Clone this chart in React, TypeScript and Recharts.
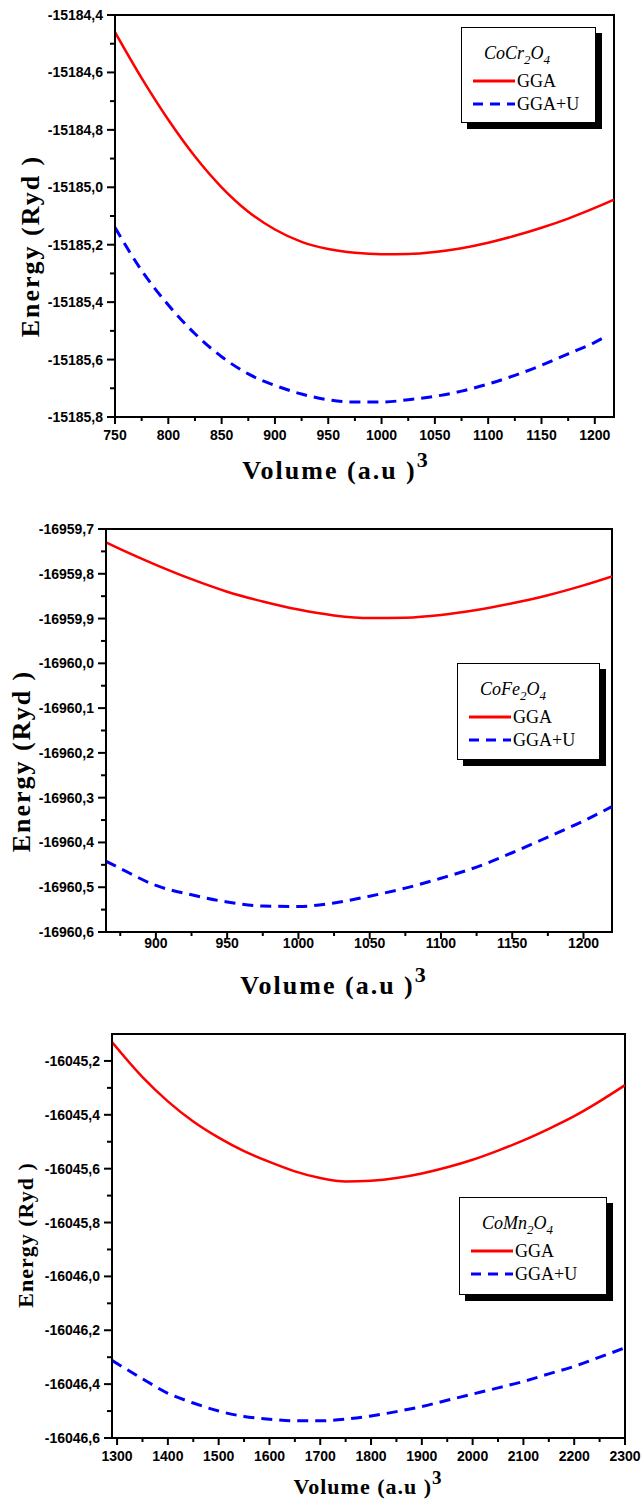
import React from "react";
import { LineChart, Line, XAxis, YAxis, ReferenceArea } from "recharts";

// CoCr2O4
const crVolGGA = [750, 775, 800, 825, 850, 875, 900, 925, 950, 975, 1000, 1025, 1050, 1075, 1100, 1125, 1150, 1175, 1200, 1218];
const crGGA = [-15184.46, -15184.62, -15184.765, -15184.893, -15185.0, -15185.085, -15185.147, -15185.19, -15185.215, -15185.228, -15185.233, -15185.232, -15185.225, -15185.212, -15185.193, -15185.169, -15185.141, -15185.109, -15185.072, -15185.043];
const crVolU = [750, 775, 800, 825, 850, 875, 900, 925, 950, 975, 1000, 1025, 1050, 1075, 1100, 1125, 1150, 1175, 1200, 1210];
const crU = [-15185.14, -15185.29, -15185.41, -15185.51, -15185.59, -15185.65, -15185.69, -15185.72, -15185.74, -15185.748, -15185.748, -15185.74, -15185.728, -15185.71, -15185.685, -15185.655, -15185.62, -15185.58, -15185.54, -15185.52];
const crXMajor = [750, 800, 850, 900, 950, 1000, 1050, 1100, 1150, 1200];
const crXMinor = [775, 825, 875, 925, 975, 1025, 1075, 1125, 1175];
const crYMajor = [-15185.8, -15185.6, -15185.4, -15185.2, -15185.0, -15184.8, -15184.6, -15184.4];
const crYMinor = [-15185.7, -15185.5, -15185.3, -15185.1, -15184.9, -15184.7, -15184.5];

// CoFe2O4
const feVol = [865, 875, 900, 925, 950, 975, 1000, 1025, 1050, 1075, 1100, 1125, 1150, 1175, 1200, 1220];
const feGGA = [-16959.73, -16959.745, -16959.78, -16959.812, -16959.84, -16959.862, -16959.88, -16959.893, -16959.899, -16959.898, -16959.892, -16959.881, -16959.866, -16959.848, -16959.826, -16959.806];
const feU = [-16960.442, -16960.458, -16960.496, -16960.517, -16960.533, -16960.542, -16960.543, -16960.535, -16960.52, -16960.502, -16960.48, -16960.455, -16960.423, -16960.388, -16960.352, -16960.32];
const feXMajor = [900, 950, 1000, 1050, 1100, 1150, 1200];
const feXMinor = [875, 925, 975, 1025, 1075, 1125, 1175];
const feYMajor = [-16960.6, -16960.5, -16960.4, -16960.3, -16960.2, -16960.1, -16960.0, -16959.9, -16959.8, -16959.7];
const feYMinor = [-16960.55, -16960.45, -16960.35, -16960.25, -16960.15, -16960.05, -16959.95, -16959.85, -16959.75];

// CoMn2O4
const mnVol = [1290, 1350, 1400, 1450, 1500, 1550, 1600, 1650, 1700, 1750, 1800, 1850, 1900, 1950, 2000, 2050, 2100, 2150, 2200, 2250, 2300];
const mnGGA = [-16045.13, -16045.26, -16045.35, -16045.425, -16045.485, -16045.535, -16045.575, -16045.61, -16045.635, -16045.648, -16045.645, -16045.635, -16045.618, -16045.595, -16045.567, -16045.533, -16045.495, -16045.452, -16045.405, -16045.35, -16045.29];
const mnU = [-16046.312, -16046.38, -16046.434, -16046.47, -16046.5, -16046.52, -16046.53, -16046.536, -16046.536, -16046.53, -16046.518, -16046.502, -16046.483, -16046.46, -16046.437, -16046.414, -16046.39, -16046.362, -16046.334, -16046.3, -16046.265];
const mnXMajor = [1300, 1400, 1500, 1600, 1700, 1800, 1900, 2000, 2100, 2200, 2300];
const mnXMinor = [1350, 1450, 1550, 1650, 1750, 1850, 1950, 2050, 2150, 2250];
const mnYMajor = [-16046.6, -16046.4, -16046.2, -16046.0, -16045.8, -16045.6, -16045.4, -16045.2];
const mnYMinor = [-16046.5, -16046.3, -16046.1, -16045.9, -16045.7, -16045.5, -16045.3];

const toRows = (xs: number[], ys: number[]) => xs.map((v, i) => ({ v, e: ys[i] }));

const SANS = '"Liberation Sans", Arial, sans-serif';
const SERIF = '"Liberation Serif", "Times New Roman", serif';
const RED = "#ff0000";
const BLUE = "#0000ff";

const isMajor = (majors: number[], v: number) => majors.some((m) => Math.abs(m - v) < 1e-6);

function YTick(props: any) {
  const { x, y, payload, majors } = props;
  const major = isMajor(majors, payload.value);
  return (
    <g>
      <line x1={x - (major ? 8 : 5)} x2={x} y1={y} y2={y} stroke="#000" strokeWidth={2} />
      {major && (
        <text x={x - 12} y={y + 5} textAnchor="end" fontFamily={SANS} fontWeight="bold" fontSize={14} fill="#000">
          {payload.value.toFixed(1).replace(".", ",")}
        </text>
      )}
    </g>
  );
}

function XTick(props: any) {
  const { x, y, payload, majors, labelDy } = props;
  const major = isMajor(majors, payload.value);
  return (
    <g>
      <line x1={x} x2={x} y1={y} y2={y + (major ? 7 : 4)} stroke="#000" strokeWidth={2} />
      {major && (
        <text x={x} y={y + labelDy} textAnchor="middle" fontFamily={SANS} fontWeight="bold" fontSize={14} fill="#000">
          {payload.value}
        </text>
      )}
    </g>
  );
}

// axis titles in the original are large bold Times
function XTitle(props: any) {
  const { viewBox, dy, cx, size, spacing } = props;
  return (
    <text x={cx} y={viewBox.y + dy} textAnchor="middle" fontFamily={SERIF} fontWeight="bold" fontSize={size} letterSpacing={spacing} fill="#000">
      Volume (a.u )<tspan dy={-Math.round(size * 0.45)} fontSize={Math.round(size * 0.85)}>3</tspan>
    </text>
  );
}

function YTitle(props: any) {
  const { cx, cy, size, spacing } = props;
  return (
    <text x={cx} y={cy} textAnchor="middle" transform={`rotate(-90, ${cx}, ${cy})`} fontFamily={SERIF} fontWeight="bold" fontSize={size} letterSpacing={spacing} fill="#000">
      Energy (Ryd )
    </text>
  );
}

interface PanelProps {
  top: number;
  height: number;
  margin: { top: number; right: number; bottom: number; left: number };
  xDomain: [number, number];
  yDomain: [number, number];
  xMajor: number[];
  xMinor: number[];
  yMajor: number[];
  yMinor: number[];
  gga: { v: number; e: number }[];
  ggaU: { v: number; e: number }[];
  xAxisHeight: number;
  tickDy: number;
  titleDy: number;
  titleCx: number;
  yTitleCx: number;
  yTitleCy: number;
  titleSize: number;
  titleSpacing: number;
}

function Panel(p: PanelProps) {
  const xTicks = [...p.xMajor, ...p.xMinor].sort((a, b) => a - b);
  const yTicks = [...p.yMajor, ...p.yMinor].sort((a, b) => a - b);
  return (
    <div style={{ position: "absolute", left: 0, top: p.top }}>
      <LineChart width={643} height={p.height} margin={p.margin}>
        <XAxis
          type="number"
          dataKey="v"
          domain={p.xDomain}
          ticks={xTicks}
          interval={0}
          allowDataOverflow
          tickLine={false}
          tickSize={0}
          tickMargin={0}
          height={p.xAxisHeight}
          axisLine={{ stroke: "#000", strokeWidth: 2 }}
          tick={<XTick majors={p.xMajor} labelDy={p.tickDy} />}
          label={<XTitle dy={p.titleDy} cx={p.titleCx} size={p.titleSize} spacing={p.titleSpacing} />}
        />
        <YAxis
          type="number"
          dataKey="e"
          domain={p.yDomain}
          ticks={yTicks}
          interval={0}
          allowDataOverflow
          tickLine={false}
          tickSize={0}
          tickMargin={0}
          width={100}
          axisLine={{ stroke: "#000", strokeWidth: 2 }}
          tick={<YTick majors={p.yMajor} />}
          label={<YTitle cx={p.yTitleCx} cy={p.yTitleCy} size={p.titleSize} spacing={p.titleSpacing} />}
        />
        <ReferenceArea
          x1={p.xDomain[0]}
          x2={p.xDomain[1]}
          y1={p.yDomain[0]}
          y2={p.yDomain[1]}
          fill="none"
          stroke="#000"
          strokeWidth={2}
          ifOverflow="visible"
        />
        <Line data={p.gga} dataKey="e" type="monotone" stroke={RED} strokeWidth={2.5} dot={false} isAnimationActive={false} />
        <Line data={p.ggaU} dataKey="e" type="monotone" stroke={BLUE} strokeWidth={3} strokeDasharray="11 7" dot={false} isAnimationActive={false} />
      </LineChart>
    </div>
  );
}

function LegendBox(props: { left: number; top: number; width: number; height: number; formula: React.ReactNode }) {
  const { left, top, width, height, formula } = props;
  const row = (y: number, color: string, dash: string | undefined, text: string) => (
    <div style={{ position: "absolute", left: 11, top: y - 12, height: 24, display: "flex", alignItems: "center" }}>
      <svg width={42} height={6} style={{ display: "block" }}>
        <line x1={0} x2={42} y1={3} y2={3} stroke={color} strokeWidth={3} strokeDasharray={dash} />
      </svg>
      <span style={{ marginLeft: 2, fontSize: 18, lineHeight: "24px" }}>{text}</span>
    </div>
  );
  return (
    <div
      style={{
        position: "absolute",
        left,
        top,
        width,
        height,
        boxSizing: "border-box",
        border: "1px solid #000",
        background: "#fff",
        boxShadow: "6px 6px 0 #000",
        fontFamily: SERIF,
        color: "#000",
      }}
    >
      <div style={{ position: "absolute", left: 22, top: 13, fontSize: 18, fontStyle: "italic", lineHeight: "24px", whiteSpace: "nowrap" }}>
        {formula}
      </div>
      {row(53, RED, undefined, "GGA")}
      {row(76, BLUE, "10 7", "GGA+U")}
    </div>
  );
}

const subStyle: React.CSSProperties = { fontSize: 13, verticalAlign: "-5px" };

export default function App() {
  return (
    <div style={{ position: "absolute", left: 0, top: 0, width: 643, height: 1508, background: "#fff", overflow: "hidden" }}>
      <Panel
        top={0}
        height={505}
        margin={{ top: 15, right: 29, bottom: 0, left: 15 }}
        xDomain={[750, 1218]}
        yDomain={[-15185.8, -15184.4]}
        xMajor={crXMajor}
        xMinor={crXMinor}
        yMajor={crYMajor}
        yMinor={crYMinor}
        gga={toRows(crVolGGA, crGGA)}
        ggaU={toRows(crVolU, crU)}
        xAxisHeight={88}
        tickDy={23}
        titleDy={62}
        titleCx={336}
        yTitleCx={39}
        yTitleCy={246}
        titleSize={26}
        titleSpacing={2}
      />
      <Panel
        top={505}
        height={505}
        margin={{ top: 24, right: 31, bottom: 0, left: 6 }}
        xDomain={[865, 1220]}
        yDomain={[-16960.6, -16959.7]}
        xMajor={feXMajor}
        xMinor={feXMinor}
        yMajor={feYMajor}
        yMinor={feYMinor}
        gga={toRows(feVol, feGGA)}
        ggaU={toRows(feVol, feU)}
        xAxisHeight={78}
        tickDy={16}
        titleDy={62}
        titleCx={334}
        yTitleCx={30}
        yTitleCy={256}
        titleSize={26}
        titleSpacing={2}
      />
      <Panel
        top={1010}
        height={498}
        margin={{ top: 24, right: 18, bottom: 0, left: 12 }}
        xDomain={[1290, 2300]}
        yDomain={[-16046.6, -16045.1]}
        xMajor={mnXMajor}
        xMinor={mnXMinor}
        yMajor={mnYMajor}
        yMinor={mnYMinor}
        gga={toRows(mnVol, mnGGA)}
        ggaU={toRows(mnVol, mnU)}
        xAxisHeight={70}
        tickDy={23}
        titleDy={56}
        titleCx={368}
        yTitleCx={33}
        yTitleCy={225}
        titleSize={22}
        titleSpacing={1}
      />
      <LegendBox left={461} top={27} width={135} height={96} formula={<>CoCr<sub style={subStyle}>2</sub>O<sub style={subStyle}>4</sub></>} />
      <LegendBox left={457} top={663} width={143} height={97} formula={<>CoFe<sub style={subStyle}>2</sub>O<sub style={subStyle}>4</sub></>} />
      <LegendBox left={459} top={1197} width={148} height={98} formula={<>CoMn<sub style={subStyle}>2</sub>O<sub style={subStyle}>4</sub></>} />
    </div>
  );
}
